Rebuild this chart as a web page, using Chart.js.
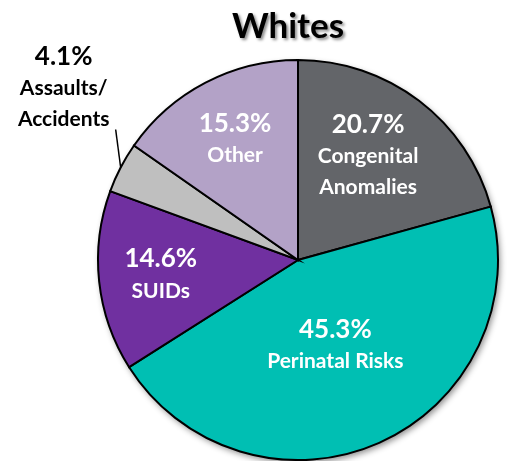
<!DOCTYPE html>
<html>
<head>
<meta charset="utf-8">
<script src="https://cdn.jsdelivr.net/npm/chart.js@4"></script>
<style>
  html, body { margin: 0; padding: 0; background: #fff; }
  #wrap { width: 512px; height: 461px; }
</style>
</head>
<body>
<div id="wrap"><canvas id="pieChart" width="512" height="461"></canvas></div>
<script>
const categories = ['Congenital Anomalies', 'Perinatal Risks', 'SUIDs', 'Assaults/Accidents', 'Other'];
const shares = [20.7, 45.3, 14.6, 4.1, 15.3];
// label lines shown in each slice (first line is the percentage)
const labelLines = [
  ['Congenital', 'Anomalies'],
  ['Perinatal Risks'],
  ['SUIDs'],
  ['Assaults/', 'Accidents'],
  ['Other']
];
const sliceColors = ['#636569', '#00BFB3', '#7030A0', '#BFBFBF', '#B3A2C7'];
const chartTitle = 'Whites';

const FONT = 'Lato, "Open Sans", sans-serif';

// where each label sits: fraction of radius along the slice mid-angle, plus a nudge
const labelPlace = [
  { r: 0.62, dx: -5, dy: -6, color: '#fff' },
  { r: 0.46, dx: 0, dy: 1, color: '#fff' },
  { r: 0.68, dx: -2, dy: 0, color: '#fff' },
  { outside: true, color: '#000' },
  { r: 0.67, dx: -1, dy: -2, color: '#fff' }
];

const piePlugin = {
  id: 'pieExtras',
  beforeDatasetsDraw(chart) {
    const arc = chart.getDatasetMeta(0).data[0];
    const ctx = chart.ctx;
    ctx.save();
    ctx.shadowColor = 'rgba(0,0,0,0.45)';
    ctx.shadowBlur = 6;
    ctx.shadowOffsetX = 2;
    ctx.shadowOffsetY = 3;
    ctx.beginPath();
    ctx.arc(arc.x, arc.y, arc.outerRadius, 0, Math.PI * 2);
    ctx.fillStyle = '#000';
    ctx.fill();
    ctx.restore();
  },
  afterDatasetsDraw(chart) {
    const ctx = chart.ctx;
    const arcs = chart.getDatasetMeta(0).data;
    ctx.save();
    ctx.textAlign = 'center';
    ctx.textBaseline = 'middle';
    arcs.forEach((a, i) => {
      const mid = (a.startAngle + a.endAngle) / 2;
      const place = labelPlace[i];
      let cx, cy;
      if (place.outside) {
        // leader line from the rim up to the text block
        const ex = a.x + Math.cos(mid) * a.outerRadius;
        const ey = a.y + Math.sin(mid) * a.outerRadius;
        ctx.strokeStyle = '#000';
        ctx.lineWidth = 1.5;
        ctx.beginPath();
        ctx.moveTo(ex, ey);
        ctx.lineTo(ex - 5, ey - 38);
        ctx.stroke();
        cx = ex - 57;
        cy = ey - 80;
      } else {
        cx = a.x + Math.cos(mid) * a.outerRadius * place.r + place.dx;
        cy = a.y + Math.sin(mid) * a.outerRadius * place.r + place.dy;
      }
      const lines = [shares[i].toFixed(1) + '%'].concat(labelLines[i]);
      const gap = 31;
      const top = cy - (lines.length - 1) * gap / 2;
      ctx.fillStyle = place.color;
      lines.forEach((t, k) => {
        ctx.font = k === 0 ? 'bold 26px ' + FONT : 'bold 21px ' + FONT;
        let y = top + k * gap;
        if (k > 0) y += 1;
        ctx.fillText(t, cx, y);
      });
    });

    // title with a drop shadow
    ctx.font = 'bold 35px ' + FONT;
    ctx.shadowColor = 'rgba(0,0,0,0.45)';
    ctx.shadowBlur = 3;
    ctx.shadowOffsetX = 2;
    ctx.shadowOffsetY = 2;
    ctx.fillStyle = '#000';
    ctx.textBaseline = 'alphabetic';
    ctx.fillText(chartTitle, 288, 38);
    ctx.restore();
  }
};

const ctx = document.getElementById('pieChart').getContext('2d');
const pieChart = new Chart(ctx, {
  type: 'pie',
  data: {
    labels: categories,
    datasets: [{
      data: shares,
      backgroundColor: sliceColors,
      borderColor: '#000',
      borderWidth: 2,
      borderJoinStyle: 'miter'
    }]
  },
  options: {
    responsive: false,
    animation: false,
    radius: 200,
    layout: {
      padding: { left: 102, right: 18, top: 59, bottom: 0 }
    },
    plugins: {
      legend: { display: false },
      tooltip: { enabled: false },
      title: { display: false }
    }
  },
  plugins: [piePlugin]
});
</script>
</body>
</html>
